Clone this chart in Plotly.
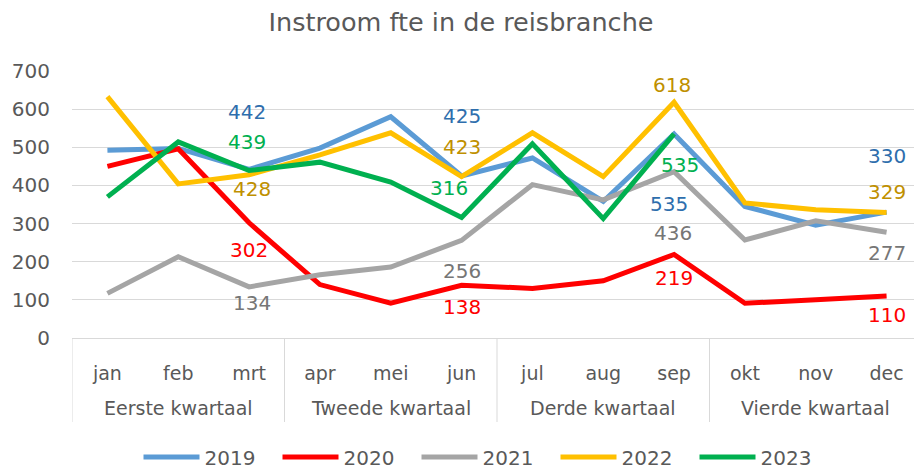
import plotly.graph_objects as go

months = ["jan", "feb", "mrt", "apr", "mei", "jun", "jul", "aug", "sep", "okt", "nov", "dec"]
quarters = ["Eerste kwartaal", "Tweede kwartaal", "Derde kwartaal", "Vierde kwartaal"]
months_per_quarter = 3

years = ["2019", "2020", "2021", "2022", "2023"]
v2019 = [492, 497, 442, 498, 580, 425, 472, 358, 535, 345, 296, 330]
v2020 = [450, 496, 302, 140, 91, 138, 130, 150, 219, 91, 100, 110]
v2021 = [117, 213, 134, 166, 186, 256, 402, 362, 436, 257, 307, 277]
v2022 = [633, 404, 428, 480, 538, 423, 538, 423, 618, 354, 336, 329]
v2023 = [370, 514, 439, 461, 409, 316, 509, 313, 535, None, None, None]

line_colors = {"2019": "#5B9BD5", "2020": "#FF0000", "2021": "#A5A5A5", "2022": "#FFC000", "2023": "#00B050"}
label_colors = {"2019": "#2E6EAD", "2020": "#FF0000", "2021": "#767676", "2022": "#BF9000", "2023": "#00B050"}
series = {"2019": v2019, "2020": v2020, "2021": v2021, "2022": v2022, "2023": v2023}

# data labels: (year, month, pixel offset up, pixel offset right)
labels = [
    ("2019", "mrt", 57, -2), ("2023", "mrt", 29, -2), ("2022", "mrt", -14, 3),
    ("2020", "mrt", -27, 0), ("2021", "mrt", -16, 3),
    ("2019", "jun", 60, 0), ("2022", "jun", 30, 0), ("2023", "jun", 29, -13),
    ("2021", "jun", -31, 0), ("2020", "jun", -22, 0),
    ("2022", "sep", 17, -2), ("2023", "sep", -31, 6), ("2019", "sep", -70, -5),
    ("2021", "sep", -61, -1), ("2020", "sep", -24, 0),
    ("2019", "dec", 56, 0), ("2022", "dec", 21, 0), ("2021", "dec", -21, 0),
    ("2020", "dec", -19, 0),
]

FONT = "Verdana, DejaVu Sans, sans-serif"
TXT = "#595959"
GRID = "#D9D9D9"

# the page body has an 8px margin, so the figure is sized to end at the window edge
PAGE_OFF = 8
W, H = 922 - PAGE_OFF, 469 - PAGE_OFF
ML, MT, MB, MR = 72 - PAGE_OFF, 71 - PAGE_OFF, 131, 0
plot_w = W - ML - MR
plot_h = H - MT - MB

fig = go.Figure()
for y in years:
    fig.add_trace(go.Scatter(
        x=months, y=series[y], name=y, mode="lines",
        line=dict(color=line_colors[y], width=5),
    ))

annotations = []
for yr, m, dy, dx in labels:
    i = months.index(m)
    val = series[yr][i]
    annotations.append(dict(
        x=i, y=val, xref="x", yref="y", text=str(val), showarrow=False,
        yshift=dy, xshift=dx, font=dict(family=FONT, size=20, color=label_colors[yr]),
    ))

shapes = []
for qi, q in enumerate(quarters):
    mid = qi * months_per_quarter + (months_per_quarter - 1) / 2
    annotations.append(dict(
        x=mid, y=0, xref="x", yref="paper", text=q, showarrow=False,
        yanchor="middle", yshift=-70, font=dict(family=FONT, size=19, color=TXT),
    ))
for b in range(len(quarters) + 1):
    xb = b * months_per_quarter - 0.5
    shapes.append(dict(type="line", xref="x", yref="paper", x0=xb, x1=xb,
                       y0=0, y1=-84 / plot_h, line=dict(color=GRID, width=1)))

fig.update_layout(
    width=W, height=H,
    margin=dict(l=ML, r=MR, t=MT, b=MB, autoexpand=False),
    paper_bgcolor="white", plot_bgcolor="white",
    font=dict(family=FONT, color=TXT),
    title=dict(text="Instroom fte in de reisbranche",
               x=(461 - PAGE_OFF) / W, xanchor="center", xref="container",
               y=1 - (22 - PAGE_OFF) / H, yanchor="middle", yref="container",
               font=dict(size=25.5, color=TXT, family=FONT)),
    showlegend=True,
    legend=dict(orientation="h", x=(486 - PAGE_OFF) / W, xanchor="center", xref="container",
                y=1 - (457 - PAGE_OFF) / H, yanchor="middle", yref="container",
                font=dict(size=20, color=TXT, family=FONT), traceorder="normal",
                entrywidth=68, itemwidth=56),
    annotations=annotations,
    shapes=shapes,
)
fig.update_xaxes(
    type="category", range=[-0.5, 11.5], showline=True, linecolor=GRID, linewidth=1,
    showgrid=False, tickfont=dict(size=19, color=TXT, family=FONT), ticks="",
    ticklabelstandoff=18,
)
fig.update_yaxes(
    range=[0, 700], dtick=100, showgrid=True, gridcolor=GRID, gridwidth=1,
    zeroline=True, zerolinecolor=GRID, zerolinewidth=1,
    tickfont=dict(size=20, color=TXT, family=FONT), ticks="", ticklabelstandoff=21,
    showline=False,
)

fig.write_html("out.html")
